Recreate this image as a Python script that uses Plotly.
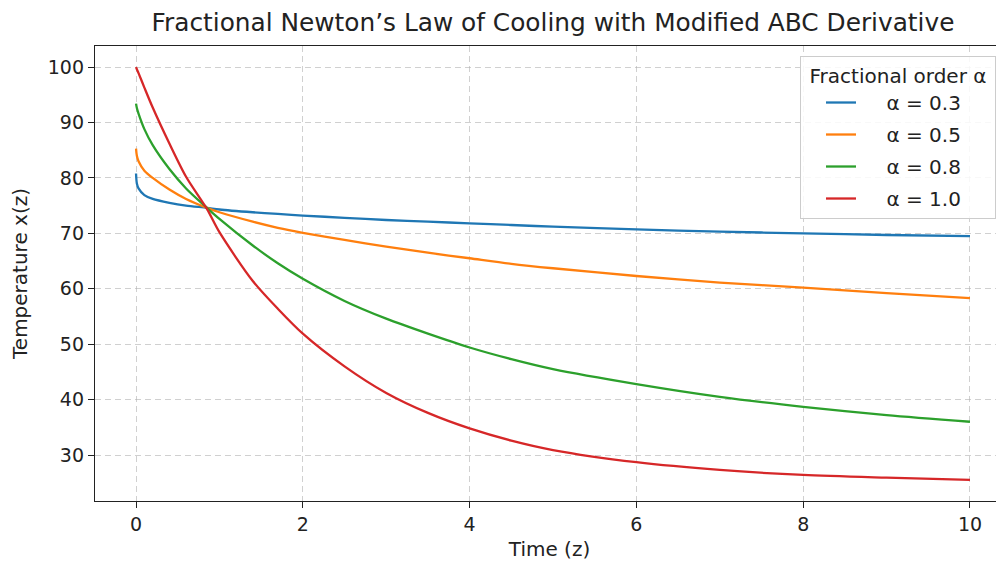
import plotly.graph_objects as go

z = [0, 0.01, 0.03, 0.1, 0.2, 0.4, 0.6, 0.85, 1.0, 1.4, 1.7, 2, 2.5, 3, 3.5, 4, 4.5, 5, 6, 7, 8, 9, 10]

x_a03 = [80.8, 79.0, 78.1, 76.9, 76.2, 75.5, 75.0, 74.6, 74.3, 73.8, 73.5, 73.2, 72.8, 72.4, 72.1, 71.8, 71.5, 71.2, 70.7, 70.3, 70.0, 69.7, 69.5]
x_a05 = [85.3, 84.0, 83.0, 81.3, 80.0, 77.9, 76.2, 74.6, 73.8, 72.1, 71.0, 70.1, 68.8, 67.6, 66.5, 65.5, 64.5, 63.7, 62.3, 61.1, 60.2, 59.2, 58.3]
x_a08 = [93.4, 92.6, 91.6, 88.8, 85.9, 81.6, 78.1, 74.6, 72.6, 67.8, 64.6, 61.8, 57.8, 54.6, 51.9, 49.4, 47.3, 45.5, 42.8, 40.5, 38.7, 37.2, 36.0]
x_a10 = [100.0, 99.6, 98.9, 96.3, 92.7, 86.2, 80.2, 74.4, 70.2, 61.4, 56.4, 51.9, 46.0, 41.2, 37.6, 34.8, 32.6, 30.9, 28.7, 27.3, 26.4, 25.9, 25.5]

series_names = ["α = 0.3", "α = 0.5", "α = 0.8", "α = 1.0"]
series_values = [x_a03, x_a05, x_a08, x_a10]
colors = ["#1f77b4", "#ff7f0e", "#2ca02c", "#d62728"]

x_ticks = [0, 2, 4, 6, 8, 10]
y_ticks = [30, 40, 50, 60, 70, 80, 90, 100]

FONT = "DejaVu Sans"
TXT = "#222222"
PAD = "\u00a0\u00a0\u00a0\u00a0"

fig = go.Figure()
for name, vals, c in zip(series_names, series_values, colors):
    fig.add_trace(go.Scatter(x=z, y=vals, mode="lines", name=PAD + name, legendgroup=name,
                             line=dict(color=c, width=2.3, shape="spline", smoothing=0.8)))

axis_common = dict(
    showgrid=True, gridcolor="rgba(176,176,176,0.6)", griddash="6px,4px", gridwidth=1,
    zeroline=False, showline=True, linecolor=TXT, linewidth=1.3,
    ticks="outside", ticklen=6, tickwidth=1.3, tickcolor=TXT,
    tickfont=dict(family=FONT, size=19, color=TXT), automargin=False,
)

fig.update_layout(
    width=996, height=556,
    margin=dict(l=87, r=0, t=38, b=63),
    paper_bgcolor="white", plot_bgcolor="white",
    font=dict(family=FONT, color=TXT),
    title=dict(text="Fractional Newton’s Law of Cooling with Modified ABC Derivative",
               font=dict(family=FONT, size=24.8, color=TXT),
               x=545 / 996, xref="container", xanchor="center",
               y=1 - 14 / 556, yref="container", yanchor="middle"),
    xaxis=dict(range=[-0.492, 10.408], tickvals=x_ticks, mirror=True,
               title=dict(text="Time (z)", font=dict(family=FONT, size=20, color=TXT), standoff=8),
               **axis_common),
    yaxis=dict(range=[21.7, 103.8], tickvals=y_ticks, mirror=False,
               title=dict(text="Temperature x(z)", font=dict(family=FONT, size=20, color=TXT), standoff=18),
               **axis_common),
    legend=dict(x=(800 - 8 - 87) / 909, y=0.978, xanchor="left", yanchor="top",
                bgcolor="rgba(255,255,255,0.85)", bordercolor="#cccccc", borderwidth=1,
                font=dict(family=FONT, size=20, color=TXT),
                title=dict(text="\u00a0Fractional order α\u00a0", side="top center",
                           font=dict(family=FONT, size=20, color=TXT)),
                indentation=20, tracegroupgap=3),
    showlegend=True,
)

fig.write_html("out.html")
